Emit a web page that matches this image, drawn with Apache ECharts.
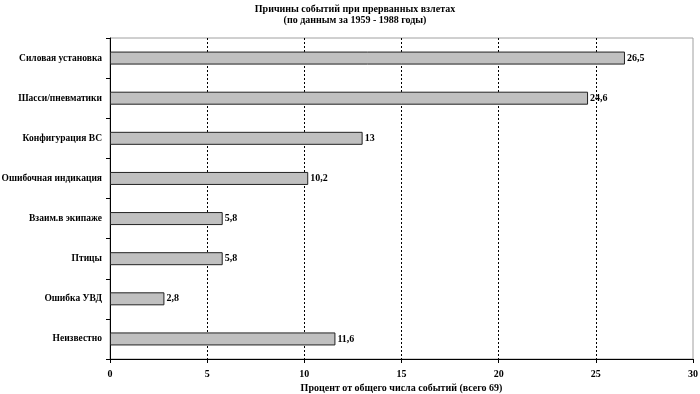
<!DOCTYPE html>
<html><head><meta charset="utf-8">
<script src="https://cdn.jsdelivr.net/npm/echarts@6/dist/echarts.min.js"></script>
<style>html,body{margin:0;padding:0;background:#fff}#c{width:700px;height:394px}</style>
</head><body><div id="c"></div>
<script>
const categories = ["Силовая установка","Шасси/пневматики","Конфигурация ВС","Ошибочная индикация","Взаим.в экипаже","Птицы","Ошибка УВД","Неизвестно"];
const values = [26.5, 24.6, 13, 10.2, 5.8, 5.8, 2.8, 11.6];
const titleLines = ["Причины событий при прерванных взлетах", "(по данным за 1959 - 1988 годы)"];
const xAxisName = "Процент от общего числа событий (всего 69)";

const FONT = "'Liberation Serif','DejaVu Serif',serif";
const chart = echarts.init(document.getElementById('c'));
chart.setOption({
  animation: false,
  title: {
    text: titleLines.join('\n'), left: 350, textAlign: 'center', top: -1,
    textStyle: {fontFamily: FONT, fontWeight: 'bold', fontSize: 10, lineHeight: 11, color: '#000'}
  },
  grid: {left: 110, right: 7, top: 38, bottom: 35, outerBoundsMode: 'none', containLabel: false,
         show: true, borderColor: '#a0a0a0', borderWidth: 1, backgroundColor: 'transparent'},
  xAxis: {
    type: 'value', min: 0, max: 30, interval: 5,
    name: xAxisName, nameLocation: 'middle', nameGap: 23,
    nameTextStyle: {fontFamily: FONT, fontWeight: 'bold', fontSize: 10, color: '#000'},
    axisLine: {show: true, lineStyle: {color: '#000', width: 1}},
    axisTick: {show: true, length: 4, lineStyle: {color: '#000'}},
    axisLabel: {fontFamily: FONT, fontWeight: 'bold', fontSize: 10, color: '#000', margin: 10},
    splitLine: {show: true, showMinLine: false, showMaxLine: false, lineStyle: {color: '#000', type: [2, 2], width: 1}}
  },
  yAxis: {
    type: 'category', data: categories, inverse: true,
    axisLine: {show: true, lineStyle: {color: '#000', width: 1}},
    axisTick: {show: true, length: 4, lineStyle: {color: '#000'}},
    axisLabel: {fontFamily: FONT, fontWeight: 'bold', fontSize: 9.5, color: '#000', margin: 8},
    splitLine: {show: false}
  },
  series: [{
    type: 'bar', data: values, barWidth: 13,
    itemStyle: {color: '#c0c0c0', borderColor: '#222', borderWidth: 1},
    label: {
      show: true, position: 'right', distance: 2,
      fontFamily: FONT, fontWeight: 'bold', fontSize: 10, color: '#000',
      formatter: p => String(p.value).replace('.', ',')
    }
  }]
});
</script></body></html>
